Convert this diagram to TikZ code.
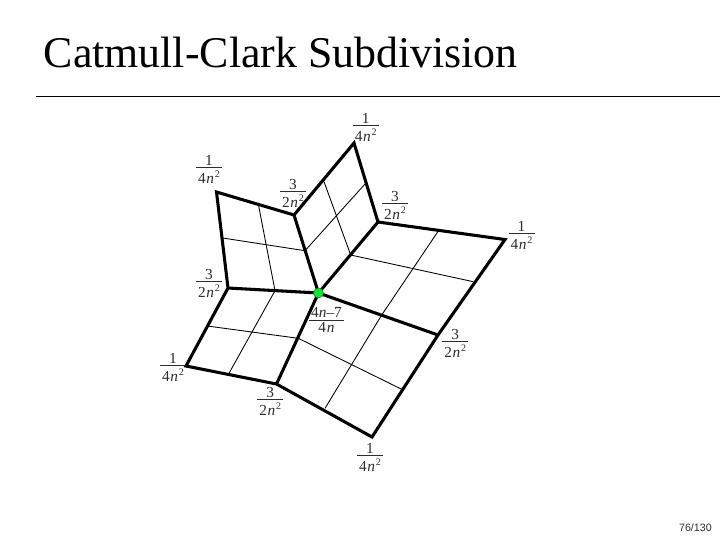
\documentclass[tikz,border=0pt]{standalone}
\usepackage{fontspec}
\setmainfont{Liberation Serif}
\setsansfont{Liberation Sans}
\definecolor{dotgreen}{RGB}{20, 225, 50}
\definecolor{labelgray}{RGB}{45, 45, 45}
% one weight: numerator, denominator, bar width, drop; the baseline is the bar
\newcommand{\weightfrac}[4]{\rule{#3}{0.6pt}\llap{\makebox[#3]{\raisebox{2pt}{#1}}}\llap{\makebox[#3]{\raisebox{-#4}{#2}}}}
\newcommand{\denom}[1]{#1\kern0.4pt\textit{n}\kern0.6pt\raisebox{4.5pt}{\fontsize{7.5}{8}\selectfont 2}}
\tikzset{
  thickedge/.style={line width=2.3pt, line join=miter},
  thinedge/.style={line width=0.65pt},
  weight/.style={anchor=base, inner sep=0pt, text=labelgray, font=\fontsize{11.5}{12}\selectfont},
}
\begin{document}
\begin{tikzpicture}[x=0.75pt, y=-0.75pt]
  \useasboundingbox (0,0) rectangle (720,540);

  % Title and rule
  \node[anchor=base west, inner sep=0pt, font=\fontsize{32.9}{36}\selectfont] (title) at (43.5, 67) {Catmull-Clark Subdivision};
  \coordinate (ruleL) at (36, 96.5);
  \coordinate (ruleR) at (720, 96.5);
  \draw[line width=0.75pt] (ruleL) -- (ruleR);

  % Mesh vertices
  \coordinate (ctr) at (318.5, 293);
  \coordinate (v1) at (216.5, 192);
  \coordinate (v2) at (294, 215);
  \coordinate (v3) at (354, 143);
  \coordinate (v4) at (378, 222);
  \coordinate (v5) at (505, 239.5);
  \coordinate (v6) at (438, 335);
  \coordinate (v7) at (372, 437);
  \coordinate (v8) at (276.5, 384);
  \coordinate (v9) at (186, 366);
  \coordinate (v10) at (228, 288);

  % Edge midpoints
  \coordinate (m12) at (258.7, 206);
  \coordinate (m101) at (222.7, 238);
  \coordinate (mc2) at (305, 250.7);
  \coordinate (mc10) at (275, 290.7);
  \coordinate (m23) at (324, 181.7);
  \coordinate (m34) at (365, 184);
  \coordinate (mc4) at (350.7, 255);
  \coordinate (m45) at (438.3, 231);
  \coordinate (m56) at (473.3, 281.7);
  \coordinate (mc6) at (381.7, 315);
  \coordinate (m67) at (401.7, 389.3);
  \coordinate (m78) at (325, 408.3);
  \coordinate (mc8) at (298.3, 338.3);
  \coordinate (m89) at (229, 373.3);
  \coordinate (m910) at (207.3, 326);

  % Thin subdivision lines
  \draw[thinedge] (m12) -- (mc10);
  \draw[thinedge] (m101) -- (mc2);
  \draw[thinedge] (m23) -- (mc4);
  \draw[thinedge] (mc2) -- (m34);
  \draw[thinedge] (mc4) -- (m56);
  \draw[thinedge] (m45) -- (mc6);
  \draw[thinedge] (mc6) -- (m78);
  \draw[thinedge] (mc8) -- (m67);
  \draw[thinedge] (mc10) -- (m89);
  \draw[thinedge] (m910) -- (mc8);

  % Thick mesh edges
  \draw[thickedge] (v1) -- (v2) -- (v3) -- (v4) -- (v5) -- (v6) -- (v7) -- (v8) -- (v9) -- (v10) -- cycle;
  \draw[thickedge] (ctr) -- (v2);
  \draw[thickedge] (ctr) -- (v4);
  \draw[thickedge] (ctr) -- (v6);
  \draw[thickedge] (ctr) -- (v8);
  \draw[thickedge] (ctr) -- (v10);

  % Centre point
  \node[circle, fill=dotgreen, draw=dotgreen!60!black, line width=0.3pt, minimum size=7.5pt, inner sep=0pt] (dot) at (ctr) {};

  % Weights
  \node[weight] (w1) at (209, 168) {\weightfrac{1}{\denom{4}}{19.5pt}{11.8pt}};
  \node[weight] (w2) at (293, 192) {\weightfrac{3}{\denom{2}}{19.5pt}{11.8pt}};
  \node[weight] (w3) at (365.7, 125.7) {\weightfrac{1}{\denom{4}}{19.5pt}{11.8pt}};
  \node[weight] (w4) at (395, 204) {\weightfrac{3}{\denom{2}}{19.5pt}{11.8pt}};
  \node[weight] (w5) at (521.5, 234) {\weightfrac{1}{\denom{4}}{19.5pt}{11.8pt}};
  \node[weight] (w6) at (455.3, 341.7) {\weightfrac{3}{\denom{2}}{19.5pt}{11.8pt}};
  \node[weight] (w7) at (370, 456) {\weightfrac{1}{\denom{4}}{19.5pt}{11.8pt}};
  \node[weight] (w8) at (270.3, 400) {\weightfrac{3}{\denom{2}}{19.5pt}{11.8pt}};
  \node[weight] (w9) at (173, 366) {\weightfrac{1}{\denom{4}}{19.5pt}{11.8pt}};
  \node[weight] (w10) at (209, 282) {\weightfrac{3}{\denom{2}}{19.5pt}{11.8pt}};
  \node[weight] (wc) at (326.5, 320.3) {\weightfrac{4\textit{n}--7}{4\kern0.6pt\textit{n}}{26pt}{9pt}};

  % Page number
  \node[anchor=base east, inner sep=0pt, text=labelgray, font=\sffamily\fontsize{8}{9}\selectfont] (page) at (712, 531) {76/130};
\end{tikzpicture}
\end{document}
